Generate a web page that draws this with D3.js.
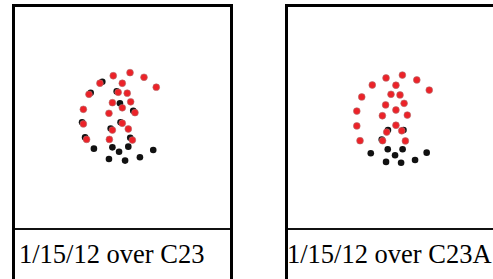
<!DOCTYPE html>
<html>
<head>
<meta charset="utf-8">
<script src="https://cdn.jsdelivr.net/npm/d3@7"></script>
<style>
  body { margin: 0; background: #fff; }
  svg { display: block; }
</style>
</head>
<body>
<svg id="chart"></svg>
<script>
// panel labels
const labels = ["1/15/12 over C23", "1/15/12 over C23A"]

// dot positions, in units of 0-100 across the field square
// panel 1 - red (1/15/12)
const redX1 = [45.7, 53.5, 60.0, 65.7, 39.5, 49.9, 34.4, 48.0, 52.2, 45.3, 53.8, 49.9, 31.8, 43.7, 55.8, 31.8, 49.9, 45.3, 52.7, 33.3, 43.9, 54.6]
const redY1 = [31.1, 29.7, 31.8, 36.3, 34.5, 34.5, 39.5, 38.6, 39.0, 43.3, 42.9, 45.6, 46.3, 48.1, 47.8, 52.9, 52.6, 55.7, 55.2, 59.9, 59.9, 60.2]
// panel 1 - black (C23)
const blackX1 = [48.8, 36.7, 45.3, 52.7, 48.4, 64.3, 43.7, 51.2, 58.1, 40.6, 35.2, 47.3, 31.2, 32.6, 44.5, 53.6, 55.0, 49.1]
const blackY1 = [43.6, 64.1, 63.5, 63.2, 65.5, 64.7, 68.8, 69.5, 68.0, 33.8, 38.8, 38.2, 52.2, 59.0, 55.0, 59.2, 47.0, 52.2]

// panel 2 - red (1/15/12)
const redX2 = [45.6, 53.2, 59.9, 65.7, 39.2, 50.2, 34.3, 47.9, 52.1, 45.4, 54.0, 50.2, 32.0, 43.9, 55.5, 32.0, 50.2, 45.9, 52.9, 33.5, 44.0, 54.6]
const redY2 = [32.1, 30.8, 33.0, 37.6, 35.3, 35.4, 40.7, 39.5, 39.8, 44.3, 43.6, 46.6, 47.1, 49.2, 48.9, 53.8, 53.5, 56.6, 56.0, 60.5, 60.5, 60.6]
// panel 2 - black (C23A)
const blackX2 = [38.5, 46.4, 53.3, 49.8, 64.5, 45.6, 52.6, 59.1, 46.5, 53.7, 43.6]
const blackY2 = [66.2, 64.4, 64.4, 67.1, 65.9, 70.1, 70.5, 69.2, 55.7, 55.7, 60.0]

const width = 493, height = 279
const svg = d3.select("#chart")
  .attr("width", width)
  .attr("height", height)

const panels = [
  { left: 15, label: labels[0], rx: redX1, ry: redY1, bx: blackX1, by: blackY1, boxW: 218, textX: 19 },
  { left: 288, label: labels[1], rx: redX2, ry: redY2, bx: blackX2, by: blackY2, boxW: 240, textX: 287 }
]

panels.forEach(function (p) {
  const x = d3.scaleLinear().domain([0, 100]).range([p.left, p.left + 215])
  const y = d3.scaleLinear().domain([0, 100]).range([7, 228])

  const g = svg.append("g")

  // frame
  g.append("rect")
    .attr("x", p.left - 1.5)
    .attr("y", 5.5)
    .attr("width", p.boxW)
    .attr("height", 300)
    .attr("fill", "#fff")
    .attr("stroke", "#000")
    .attr("stroke-width", 3)

  g.append("line")
    .attr("x1", p.left)
    .attr("x2", p.left + p.boxW - 3)
    .attr("y1", 229)
    .attr("y2", 229)
    .attr("stroke", "#111")
    .attr("stroke-width", 2)

  const black = d3.zip(p.bx, p.by)
  const red = d3.zip(p.rx, p.ry)

  g.selectAll(".black")
    .data(black)
    .enter().append("circle")
    .attr("class", "black")
    .attr("cx", function (d) { return x(d[0]) })
    .attr("cy", function (d) { return y(d[1]) })
    .attr("r", 3.3)
    .attr("fill", "#111")

  g.selectAll(".red")
    .data(red)
    .enter().append("circle")
    .attr("class", "red")
    .attr("cx", function (d) { return x(d[0]) })
    .attr("cy", function (d) { return y(d[1]) })
    .attr("r", 3.4)
    .attr("fill", "#ec2228")
    .attr("stroke", "#b07070")
    .attr("stroke-width", 0.6)

  g.append("text")
    .attr("x", p.textX)
    .attr("y", 263)
    .attr("font-family", "'Liberation Serif', 'Times New Roman', serif")
    .attr("font-size", 26.5)
    .attr("fill", "#000")
    .text(p.label)
})
</script>
</body>
</html>
